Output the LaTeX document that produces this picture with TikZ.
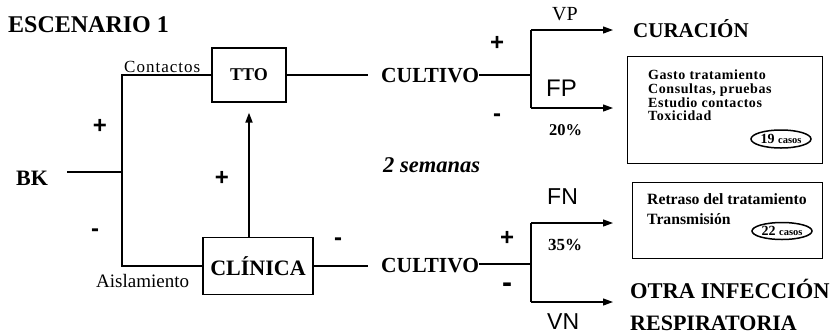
\documentclass[tikz,border=0pt]{standalone}
\usepackage{fontspec}
\setmainfont{Liberation Serif}
\newfontfamily\arialf{Liberation Sans}
\newfontfamily\spacedserif[LetterSpace=4]{Liberation Serif}
\newfontfamily\widerserif[LetterSpace=6]{Liberation Serif}
\usetikzlibrary{arrows.meta,shapes.geometric}
\tikzset{
  fs/.style={font=\bfseries\fontsize{#1}{#1}\selectfont},
  lbl/.style={inner sep=0pt, fs=20},
  bxt/.style={inner sep=0pt, font=\spacedserif\bfseries\fontsize{#1}{#1}\selectfont, anchor=base west},
  sml/.style={inner sep=0pt, font=\fontsize{#1}{#1}\selectfont},
  sgn/.style={inner sep=0pt, font=\arialf\bfseries\fontsize{#1}{#1}\selectfont},
  ar/.style={inner sep=0pt, font=\arialf\fontsize{#1}{#1}\selectfont},
  boxn/.style={draw, line width=1.3pt, inner sep=0pt},
  txtbox/.style={draw, line width=1pt, inner sep=0pt, anchor=north west},
  ln/.style={line width=1.2pt},
  arr/.style={ln, -{Triangle[length=10pt,width=7pt]}},
  ovl/.style={draw, ellipse, line width=1.5pt, inner sep=0pt, minimum width=60pt, minimum height=18pt},
}
\begin{document}
\begin{tikzpicture}[x=1pt,y=-1pt]
\useasboundingbox (0,0) rectangle (834,335);
% title
\node[lbl, fs=24, anchor=base west] (title) at (8,32) {ESCENARIO 1};
% boxes
\node[boxn, minimum width=74pt, minimum height=54pt, fs=18] (tto) at (249,75) {TTO};
\node[boxn, minimum width=110pt, minimum height=57pt, fs=22] (clin) at (258,266) {CLÍNICA};
% BK
\node[lbl, fs=22, anchor=west] (bk) at (16,178) {BK};
\coordinate (bkl) at (67,172);
\coordinate (jl) at (122,172);
\draw[ln] (bkl) -- (jl);
\draw[ln] (tto.west) -- (tto.west -| jl) -- (clin.west -| jl) -- (clin.west);
\node[inner sep=0pt, font=\widerserif\fontsize{17}{17}\selectfont, anchor=base west] (cont) at (124,72) {Contactos};
\node[sml=19, anchor=base west] (aisl) at (96,287) {Aislamiento};
\node[sgn=24] (p1) at (100,126) {+};
\node[sgn=24] (m1) at (95,233) {-};
\node[sgn=24] (p2) at (222,178) {+};
\node[sgn=24] (m2) at (338,242) {-};
% vertical arrow
\draw[arr, line width=1.8pt, shorten >=10pt] (tto.south |- clin.north) -- (tto.south);
% cultivos
\node[lbl, fs=21.5, anchor=west] (c1) at (381,76) {CULTIVO};
\node[lbl, fs=21.5, anchor=west] (c2) at (381,266) {CULTIVO};
\coordinate (c1l) at (368,75);
\coordinate (c2l) at (368,266);
\draw[ln] (tto.east) -- (c1l);
\draw[ln] (clin.east) -- (c2l);
\node[inner sep=0pt, font=\bfseries\itshape\fontsize{22.5}{22.5}\selectfont, anchor=base west] (sem) at (383,172) {2 semanas};
% branch 1
\coordinate (b1) at (531,75);
\coordinate (b1t) at (531,30);
\coordinate (b1b) at (531,108);
\coordinate (a1t) at (613,30);
\coordinate (a1b) at (613,108);
\draw[ln] (c1.east |- b1) -- (b1);
\draw[ln] (b1t) -- (b1b);
\draw[arr] (b1t) -- (a1t);
\draw[arr] (b1b) -- (a1b);
\node[sml=20, anchor=base west] (vp) at (552,20) {VP};
\node[ar=24, anchor=west] (fp) at (546,88.5) {FP};
\node[sgn=24] (p3) at (497,43) {+};
\node[sgn=24] (m3) at (497,118) {-};
\node[lbl, fs=16.5, anchor=west] (pc20) at (549,130) {20\%};
\node[lbl, fs=21, anchor=base west] (cur) at (633,37) {CURACIÓN};
% box 1
\node[txtbox, minimum width=195pt, minimum height=107pt] (bx1) at (627,56) {};
\node[bxt=14] (t11) at (648,79) {Gasto tratamiento};
\node[bxt=14] (t12) at (648,93) {Consultas, pruebas};
\node[bxt=14] (t13) at (648,107) {Estudio contactos};
\node[bxt=14] (t14) at (648,120.5) {Toxicidad};
\node[ovl] (e1) at (781,139) {\bfseries\fontsize{14}{14}\selectfont 19 \fontsize{10.5}{10.5}\selectfont casos};
% branch 2
\coordinate (b2) at (531,264);
\coordinate (b2t) at (531,223);
\coordinate (b2b) at (531,302);
\coordinate (a2t) at (613,223);
\coordinate (a2b) at (613,302);
\draw[line width=2.2pt] (c2.east |- b2) -- (b2);
\draw[ln] (b2t) -- (b2b);
\draw[arr] (b2t) -- (a2t);
\draw[arr] (b2b) -- (a2b);
\node[ar=23, anchor=west] (fn) at (547,197) {FN};
\node[ar=23, anchor=west] (vn) at (547,322) {VN};
\node[sgn=24] (p4) at (507,238) {+};
\node[sgn=30] (m4) at (507,288) {-};
\node[lbl, fs=17, anchor=west] (pc35) at (548,244.5) {35\%};
% box 2
\node[txtbox, minimum width=190pt, minimum height=76pt] (bx2) at (632,182) {};
\node[lbl, fs=15.7, anchor=base west] (t21) at (647,204) {Retraso del tratamiento};
\node[lbl, fs=15.7, anchor=base west] (t22) at (647,224) {Transmisión};
\node[ovl, minimum height=17pt] (e2) at (782,231) {\bfseries\fontsize{14}{14}\selectfont 22 \fontsize{10.5}{10.5}\selectfont casos};
\node[lbl, fs=22.5, anchor=base west] (otra) at (630,298) {OTRA INFECCIÓN};
\node[lbl, fs=22, anchor=base west] (resp) at (630,330) {RESPIRATORIA};
\end{tikzpicture}
\end{document}
